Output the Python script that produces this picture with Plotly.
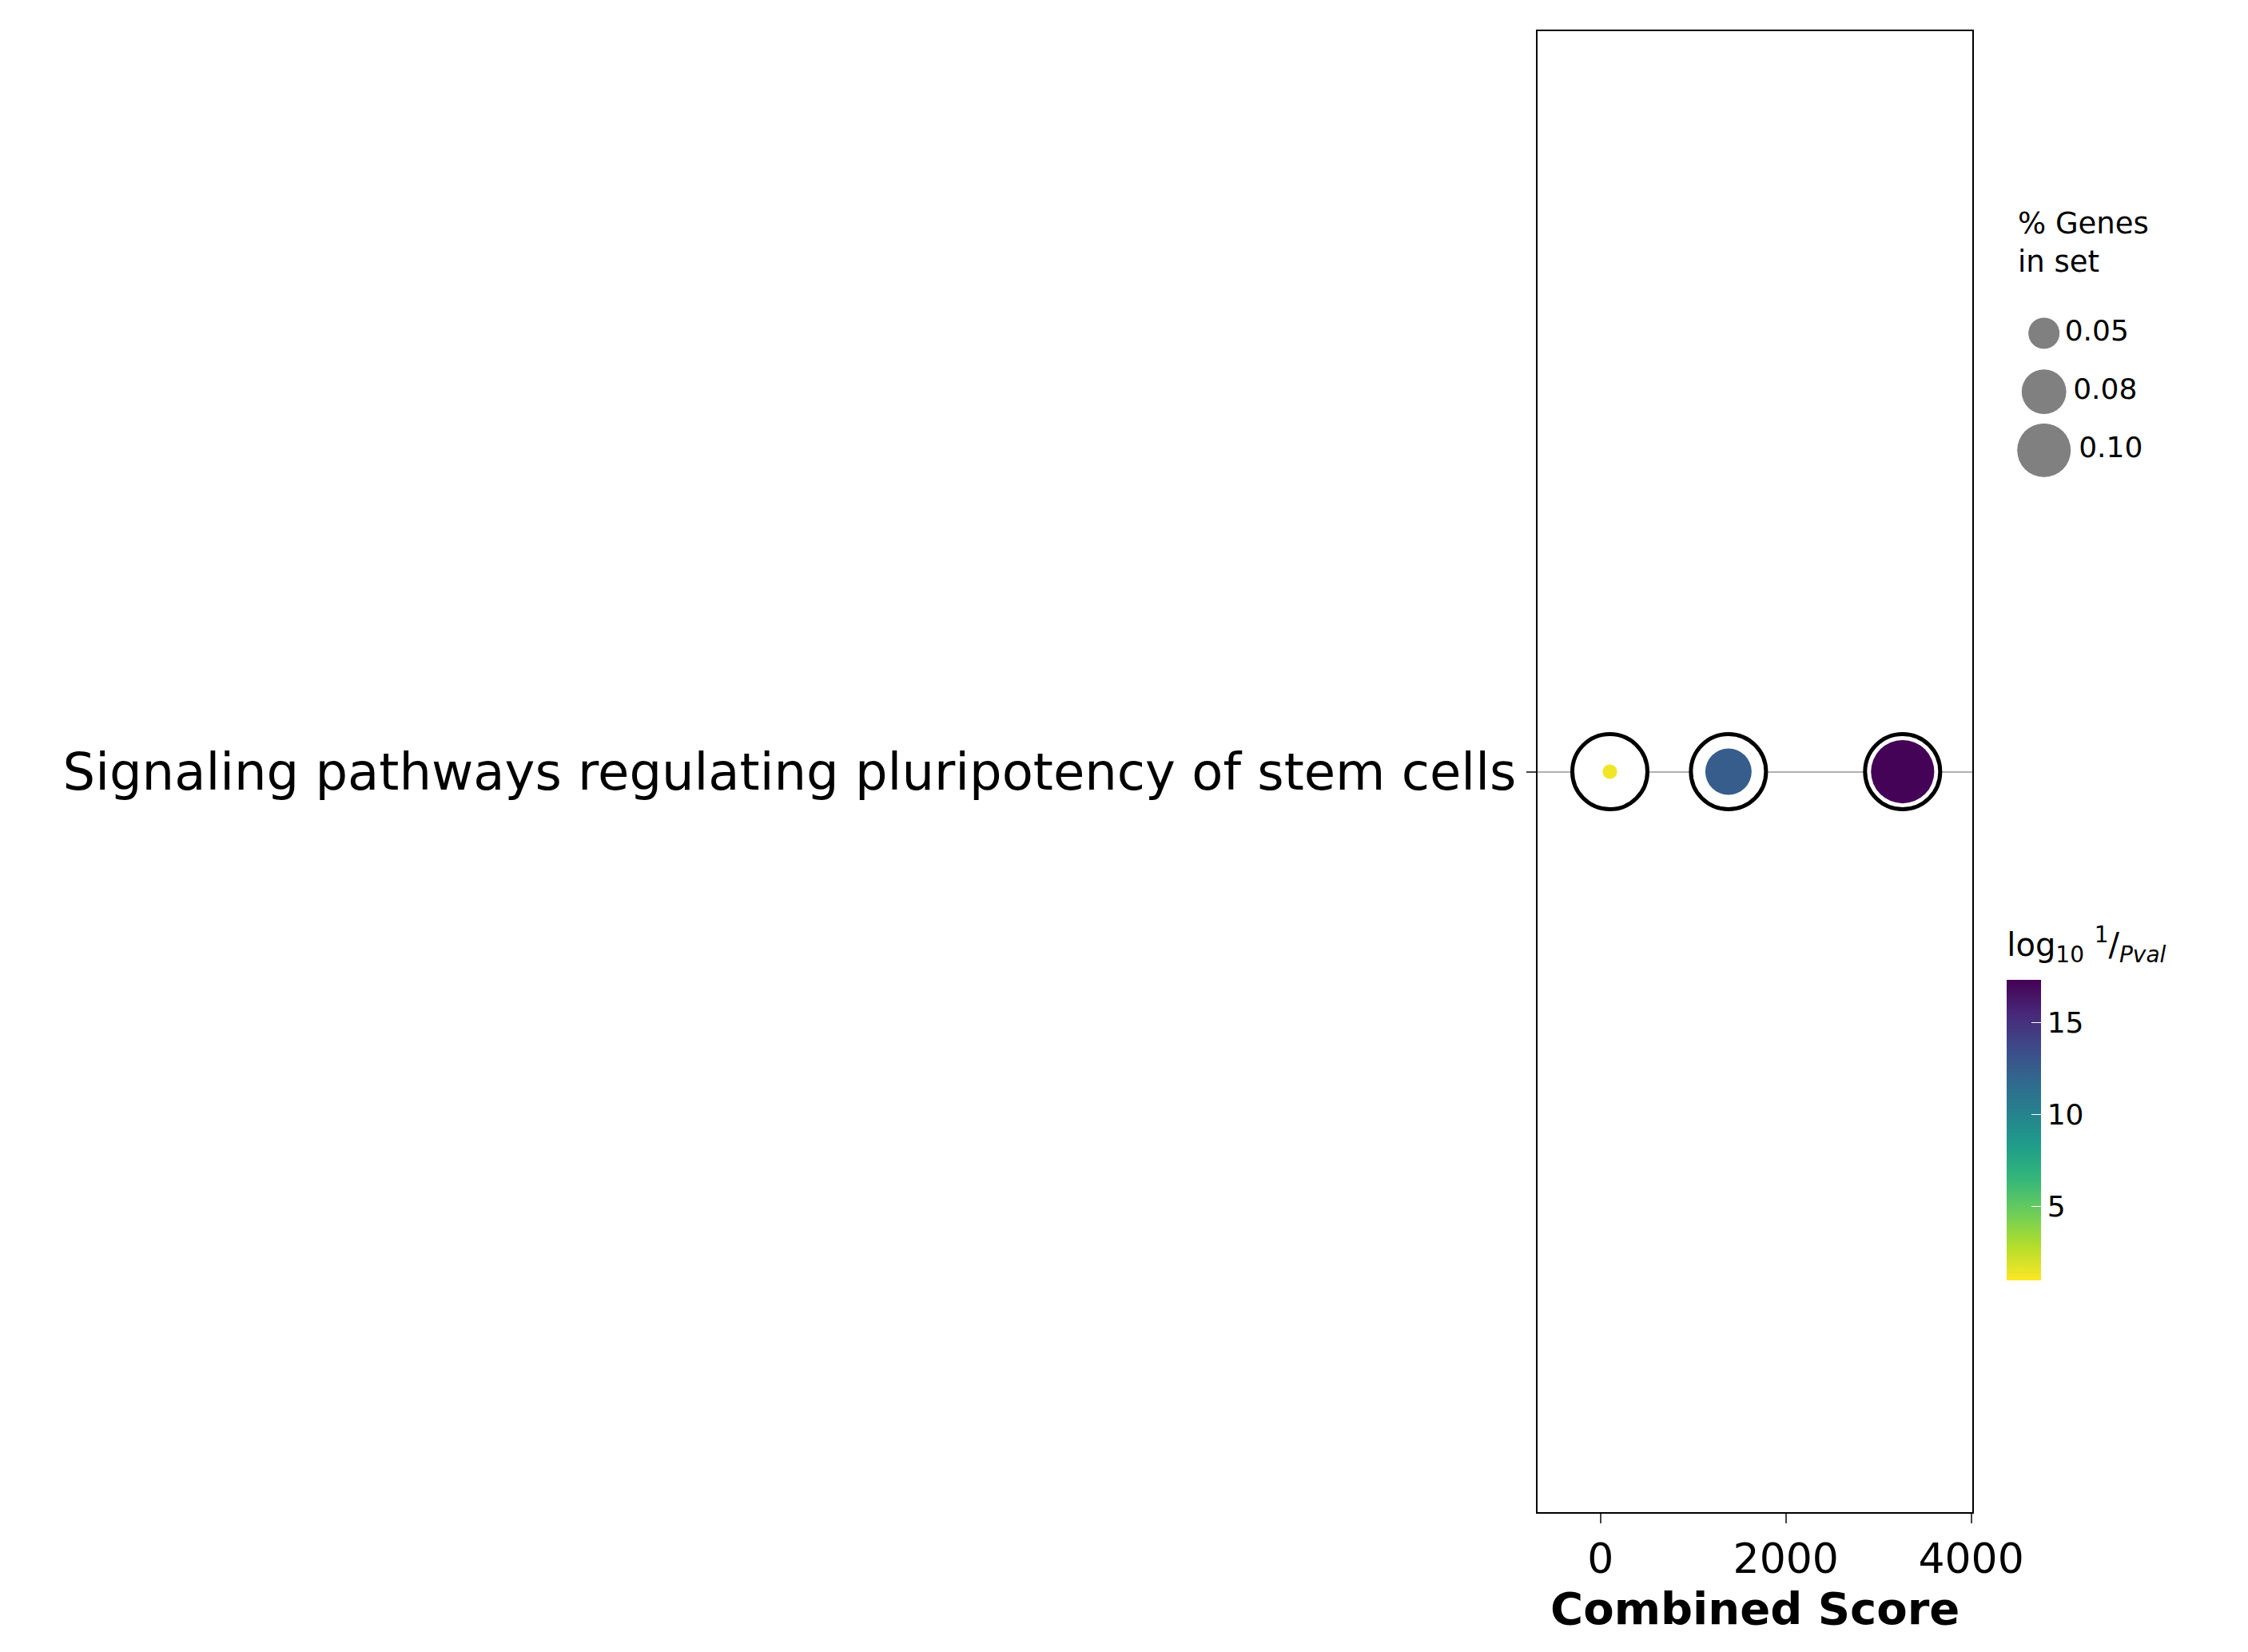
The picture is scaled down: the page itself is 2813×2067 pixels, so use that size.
import plotly.graph_objects as go

term = ["Signaling pathways regulating pluripotency of stem cells"]
combined_score = [100, 1380, 3260]
log10_inv_pval = [1.3, 12.5, 17.2]
pct_genes = [0.011, 0.082, 0.12]
legend_pct = [0.05, 0.08, 0.10]
legend_labels = ["0.05", "0.08", "0.10"]


def size_px(p):
    return 560 * p + 12


fig = go.Figure()
# outer black rings
fig.add_trace(go.Scatter(
    x=combined_score, y=term * len(combined_score), mode="markers",
    marker=dict(size=94, color="white", opacity=1, line=dict(color="black", width=5)),
    showlegend=False, hoverinfo="skip"))
fig.add_trace(go.Scatter(
    x=combined_score, y=term * len(combined_score), mode="markers",
    marker=dict(size=[size_px(p) for p in pct_genes], color=log10_inv_pval,
                opacity=1,
                colorscale="Viridis", reversescale=True, cmin=1.0, cmax=17.3,
                line=dict(width=0),
                colorbar=dict(
                    title=dict(text="log<sub>10</sub> <sup>1</sup>/<sub><i>Pval</i></sub>",
                               side="top", font=dict(size=40)),
                    x=0.907, xanchor="left", y=0.224, yanchor="bottom",
                    len=0.222, lenmode="fraction", thickness=43,
                    outlinewidth=0, tickvals=[5, 10, 15],
                    ticks="inside", tickcolor="white", ticklen=12,
                    tickfont=dict(size=36))),
    showlegend=False))
# size legend drawn on its own small axes
fig.add_trace(go.Scatter(
    x=[0] * len(legend_pct), y=legend_labels, mode="markers+text",
    marker=dict(size=[size_px(p) for p in legend_pct], color="gray", opacity=1),
    text=legend_labels, textposition="middle right",
    textfont=dict(size=36), xaxis="x2", yaxis="y2",
    showlegend=False, hoverinfo="skip", cliponaxis=False))

fig.update_layout(
    width=2813, height=2067, paper_bgcolor="white", plot_bgcolor="white",
    margin=dict(l=0, r=0, t=0, b=0),
    font=dict(family="DejaVu Sans", color="black"),
    annotations=[dict(text="% Genes<br>in set", xref="paper", yref="paper",
                      x=0.915, y=0.88, xanchor="left", yanchor="top",
                      align="left", showarrow=False, font=dict(size=37))],
    xaxis=dict(domain=[0.697, 0.895], range=[-680, 4015],
               tickvals=[0, 2000, 4000], ticks="outside", ticklen=12,
               tickwidth=2, tickfont=dict(size=52), showgrid=False,
               showline=True, linecolor="black", linewidth=2, mirror=True,
               title=dict(text="<b>Combined Score</b>", font=dict(size=56),
                          standoff=10)),
    yaxis=dict(domain=[0.0885, 0.985], type="category",
               ticks="outside", ticklen=12, tickwidth=2,
               tickfont=dict(size=64), showgrid=True, gridcolor="#b0b0b0",
               gridwidth=2, showline=True, linecolor="black", linewidth=2,
               mirror=True),
    xaxis2=dict(domain=[0.91, 0.945], range=[-1, 1], visible=False,
                anchor="y2"),
    yaxis2=dict(domain=[0.705, 0.82], type="category",
                categoryorder="array", categoryarray=legend_labels[::-1],
                visible=False, anchor="x2"),
)
fig.write_html("out.html")
